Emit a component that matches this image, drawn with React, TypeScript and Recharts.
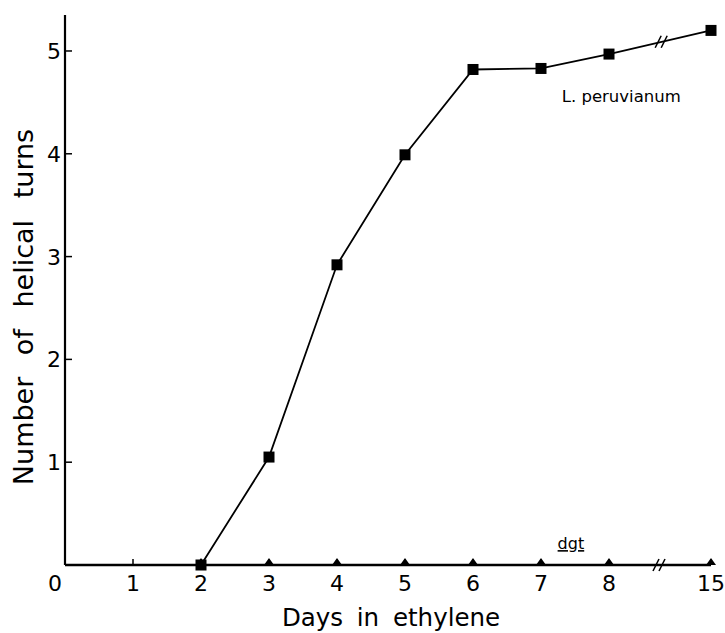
import { LineChart, Line, XAxis, YAxis, ReferenceDot, Customized } from 'recharts';

const days = [2, 3, 4, 5, 6, 7, 8, 15];
const peruvianum = [0, 1.05, 2.92, 3.99, 4.82, 4.83, 4.97, 5.2];
const dgt = [0, 0, 0, 0, 0, 0, 0, 0];
const xTicks = [0, 1, 2, 3, 4, 5, 6, 7, 8, 15];
const yTicks = [0, 1, 2, 3, 4, 5];

// x axis is broken after day 8, the 8 -> 15 gap is squeezed
const BREAK_FROM = 8;
const SQUEEZE = 1.5 / 7;
const pos = (d: number) => (d <= BREAK_FROM ? d : BREAK_FROM + (d - BREAK_FROM) * SQUEEZE);

const data = days.map((d, i) => ({ x: pos(d), day: d, peruvianum: peruvianum[i], dgt: dgt[i] }));

// where the "//" marks sit (in days)
const axisBreakDay = 11.5;
const lineBreakDay = 11.65;
const lineBreakY =
  peruvianum[6] + ((peruvianum[7] - peruvianum[6]) * (lineBreakDay - 8)) / (15 - 8);

const FONT = '"DejaVu Sans", sans-serif';

const Square = (p: any) => (
  <rect x={p.cx - 5.5} y={p.cy - 5.5} width={11} height={11} fill="#000" />
);

const Triangle = (p: any) => (
  <polygon points={`${p.cx - 5},${p.cy} ${p.cx + 5},${p.cy} ${p.cx},${p.cy - 7}`} fill="#000" />
);

const BreakMark = (p: any) => (
  <g stroke="#000" strokeWidth={1.6}>
    <line x1={p.cx - 7} y1={p.cy + 6} x2={p.cx - 1} y2={p.cy - 6} />
    <line x1={p.cx - 1} y1={p.cy + 6} x2={p.cx + 5} y2={p.cy - 6} />
  </g>
);

const YTick = ({ x, y, payload }: any) => {
  if (payload.value === 0) return null;
  return (
    <g>
      <line x1={x} y1={y} x2={x + 7} y2={y} stroke="#000" strokeWidth={1.5} />
      <text x={x - 4} y={y + 8} textAnchor="end" fontSize={22} fontFamily={FONT} fill="#000">
        {payload.value}
      </text>
    </g>
  );
};

const XTick = ({ x, y, payload }: any) => {
  const day = xTicks.find((d) => Math.abs(pos(d) - payload.value) < 1e-6) ?? payload.value;
  return (
    <g>
      {day !== 0 && <line x1={x} y1={y} x2={x} y2={y - 6} stroke="#000" strokeWidth={1.5} />}
      <text
        x={day === 0 ? x - 10 : x}
        y={y + 26}
        textAnchor="middle"
        fontSize={22}
        fontFamily={FONT}
        fill="#000"
      >
        {day}
      </text>
    </g>
  );
};

const Titles = () => (
  <g fontFamily={FONT} fill="#000">
    <text x={391} y={626} textAnchor="middle" fontSize={24.5} wordSpacing={6}>
      Days in ethylene
    </text>
    <text
      transform="translate(33,307) rotate(-90)"
      textAnchor="middle"
      fontSize={27}
      wordSpacing={13}
    >
      Number of helical turns
    </text>
  </g>
);

export default function App() {
  return (
    <div style={{ position: 'absolute', left: 0, top: 0, background: '#fff' }}>
      <LineChart
        width={725}
        height={633}
        data={data}
        margin={{ top: 15, right: 14, bottom: 0, left: 0 }}
      >
        <XAxis
          dataKey="x"
          type="number"
          domain={[0, 9.5]}
          ticks={xTicks.map(pos)}
          interval={0}
          height={68}
          tickSize={0}
          tickMargin={0}
          tickLine={false}
          tick={XTick}
          axisLine={{ stroke: '#000', strokeWidth: 2.4 }}
        />
        <YAxis
          type="number"
          domain={[0, 5.35]}
          ticks={yTicks}
          interval={0}
          width={65}
          tickSize={0}
          tickMargin={0}
          tickLine={false}
          tick={YTick}
          axisLine={{ stroke: '#000', strokeWidth: 2.2 }}
        />
        <Line
          dataKey="dgt"
          stroke="#000"
          strokeWidth={2}
          dot={(p: any) => <Triangle key={`t${p.index}`} {...p} />}
          isAnimationActive={false}
        />
        <Line
          dataKey="peruvianum"
          stroke="#000"
          strokeWidth={1.8}
          dot={(p: any) => <Square key={`s${p.index}`} {...p} />}
          isAnimationActive={false}
        />
        <ReferenceDot x={pos(axisBreakDay)} y={0} shape={BreakMark} />
        <ReferenceDot x={pos(lineBreakDay)} y={lineBreakY} shape={BreakMark} />
        <ReferenceDot
          x={8.18}
          y={4.5}
          shape={(p: any) => (
            <text x={p.cx} y={p.cy} textAnchor="middle" fontSize={16.5} fontFamily={FONT} fill="#000">
              L. peruvianum
            </text>
          )}
        />
        <ReferenceDot
          x={7.44}
          y={0.155}
          shape={(p: any) => (
            <text
              x={p.cx}
              y={p.cy}
              textAnchor="middle"
              fontSize={16}
              fontFamily={FONT}
              fill="#000"
              textDecoration="underline"
            >
              dgt
            </text>
          )}
        />
        <Customized component={Titles} />
      </LineChart>
    </div>
  );
}
